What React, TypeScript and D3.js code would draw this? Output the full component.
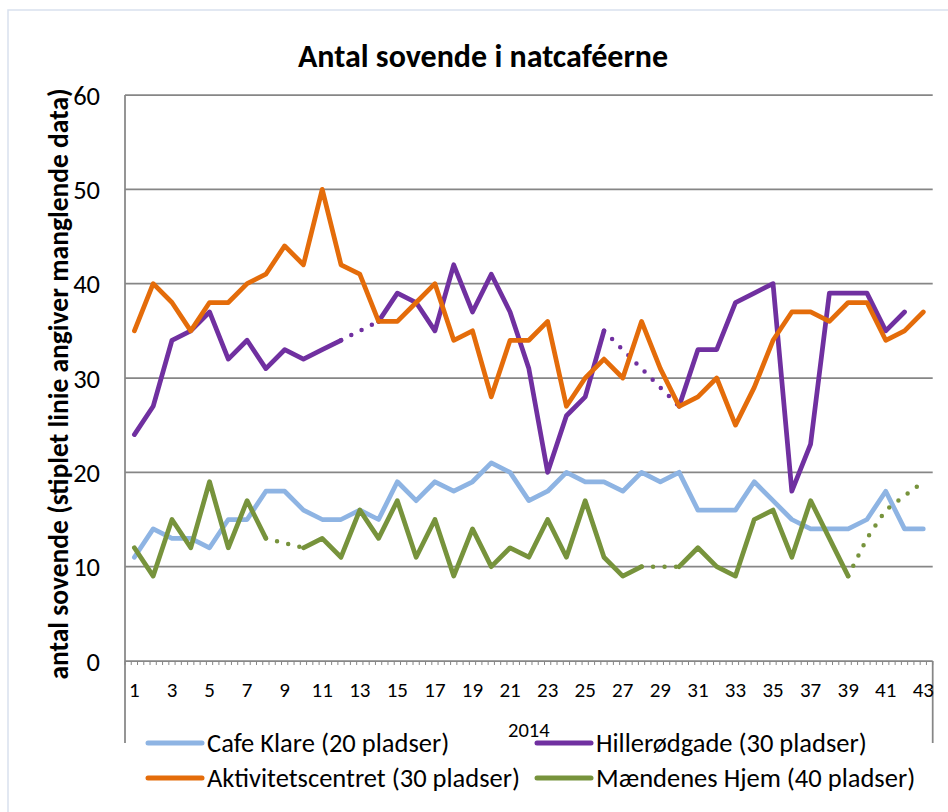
import * as d3 from "d3";

// days along the x axis (multi-level axis, group label "2014")
const days = [
  1, 2, 3, 4, 5, 6, 7, 8, 9, 10, 11, 12, 13, 14, 15, 16, 17, 18, 19, 20, 21,
  22, 23, 24, 25, 26, 27, 28, 29, 30, 31, 32, 33, 34, 35, 36, 37, 38, 39, 40,
  41, 42, 43,
];
const groupLabel = "2014";
const yTicks = [0, 10, 20, 30, 40, 50, 60];

type V = number | null;

const cafeKlare: V[] = [
  11, 14, 13, 13, 12, 15, 15, 18, 18, 16, 15, 15, 16, 15, 19, 17, 19, 18, 19,
  21, 20, 17, 18, 20, 19, 19, 18, 20, 19, 20, 16, 16, 16, 19, 17, 15, 14, 14,
  14, 15, 18, 14, 14,
];
const hillerodgade: V[] = [
  24, 27, 34, 35, 37, 32, 34, 31, 33, 32, 33, 34, null, 36, 39, 38, 35, 42, 37,
  41, 37, 31, 20, 26, 28, 35, null, null, null, 27, 33, 33, 38, 39, 40, 18, 23,
  39, 39, 39, 35, 37, null,
];
const aktivitetscentret: V[] = [
  35, 40, 38, 35, 38, 38, 40, 41, 44, 42, 50, 42, 41, 36, 36, 38, 40, 34, 35,
  28, 34, 34, 36, 27, 30, 32, 30, 36, 31, 27, 28, 30, 25, 29, 34, 37, 37, 36,
  38, 38, 34, 35, 37,
];
const maendenesHjem: V[] = [
  12, 9, 15, 12, 19, 12, 17, 13, null, 12, 13, 11, 16, 13, 17, 11, 15, 9, 14,
  10, 12, 11, 15, 11, 17, 11, 9, 10, null, 10, 12, 10, 9, 15, 16, 11, 17, 13,
  9, null, null, null, null,
];
// dotted (estimated) tail for Mændenes Hjem
const maendenesHjemEstimate: V[] = [
  null, null, null, null, null, null, null, null, null, null, null, null, null,
  null, null, null, null, null, null, null, null, null, null, null, null, null,
  null, null, null, null, null, null, null, null, null, null, null, null, null,
  13, 16, 17.5, 19,
];

const series = [
  { name: "Cafe Klare (20 pladser)", values: cafeKlare, estimate: null, color: "#8EB4E3" },
  { name: "Hillerødgade (30 pladser)", values: hillerodgade, estimate: null, color: "#7030A0" },
  { name: "Aktivitetscentret (30 pladser)", values: aktivitetscentret, estimate: null, color: "#E46C0A" },
  { name: "Mændenes Hjem (40 pladser)", values: maendenesHjem, estimate: maendenesHjemEstimate, color: "#77933C" },
];

const W = 948;
const H = 812;
const plot = { left: 125, right: 932.7, top: 95, bottom: 661 };
const font = "Carlito, Calibri, Lato, sans-serif";
const gridColor = "#868686";

// runs of missing values are bridged with a dotted line
function gapRuns(values: V[], estimate: V[] | null) {
  const runs: number[][] = [];
  let i = 0;
  while (i < values.length) {
    if (values[i] != null) {
      i++;
      continue;
    }
    const s = i;
    while (i < values.length && values[i] == null) i++;
    const pts: number[] = [];
    if (s > 0) pts.push(s - 1);
    for (let k = s; k < i; k++) if (estimate && estimate[k] != null) pts.push(k);
    if (i < values.length) pts.push(i);
    if (pts.length > 1) runs.push(pts);
  }
  return runs;
}

export default function App() {
  const x = d3.scaleBand<number>().domain(days).range([plot.left, plot.right]);
  const bw = x.bandwidth();
  const cx = (d: number) => x(d)! + bw / 2;
  const y = d3.scaleLinear().domain([0, 60]).range([plot.bottom, plot.top]);

  const line = d3
    .line<V>()
    .defined((d) => d != null)
    .x((_, i) => cx(days[i]))
    .y((d) => y(d as number));

  const minorTicks = d3.range(0, days.length * 3 + 1).map((k) => plot.left + (k * bw) / 3);

  const legend = [
    { s: series[0], lx: 148, ly: 743 },
    { s: series[1], lx: 537, ly: 743 },
    { s: series[2], lx: 148, ly: 778 },
    { s: series[3], lx: 537, ly: 778 },
  ];

  return (
    <svg
      width={W}
      height={H}
      style={{ position: "absolute", left: 0, top: 0, fontFamily: font }}
    >
      <rect x={0} y={0} width={W} height={H} fill="#fff" />
      <rect x={8} y={10} width={W + 20} height={H + 20} fill="#fff" stroke="#D9E1EE" strokeWidth={1.5} />

      <text x={483} y={67} textAnchor="middle" fontSize={32} fontWeight="bold" fill="#000">
        Antal sovende i natcaféerne
      </text>

      {/* gridlines */}
      {yTicks.slice(1).map((t) => (
        <line key={t} x1={plot.left} x2={plot.right} y1={y(t)} y2={y(t)} stroke={gridColor} strokeWidth={1.75} />
      ))}
      {yTicks.map((t) => (
        <text key={t} x={100} y={y(t)} dy="0.36em" textAnchor="end" fontSize={26.5} fill="#000">
          {t}
        </text>
      ))}

      {/* axes */}
      <line x1={plot.left} x2={plot.left} y1={plot.top} y2={743} stroke={gridColor} strokeWidth={1.75} />
      <line x1={plot.right} x2={plot.right} y1={plot.bottom} y2={743} stroke={gridColor} strokeWidth={1.75} />
      <line x1={plot.left} x2={plot.right} y1={plot.bottom} y2={plot.bottom} stroke={gridColor} strokeWidth={1.75} />
      {minorTicks.map((t, i) => (
        <line key={i} x1={t} x2={t} y1={plot.bottom} y2={plot.bottom + 4} stroke={gridColor} strokeWidth={1} />
      ))}
      {days
        .filter((d) => d % 2 === 1)
        .map((d) => (
          <text key={d} x={cx(d)} y={697} textAnchor="middle" fontSize={21} fill="#000">
            {d}
          </text>
        ))}
      <text x={(plot.left + plot.right) / 2} y={737} textAnchor="middle" fontSize={20.5} fill="#000">
        {groupLabel}
      </text>

      <text
        transform={`translate(68,384) rotate(-90)`}
        textAnchor="middle"
        fontSize={27.5}
        fontWeight="bold"
        fill="#000"
      >
        antal sovende (stiplet linie angiver manglende data)
      </text>

      {/* series */}
      {series.map((s) => (
        <g key={s.name}>
          <path
            d={line(s.values) ?? ""}
            fill="none"
            stroke={s.color}
            strokeWidth={4.75}
            strokeLinejoin="round"
            strokeLinecap="round"
          />
          {gapRuns(s.values, s.estimate).map((run, i) => (
            <path
              key={i}
              d={
                d3
                  .line<number>()
                  .x((k) => cx(days[k]))
                  .y((k) => y((s.values[k] ?? s.estimate?.[k]) as number))(run) ?? ""
              }
              fill="none"
              stroke={s.color}
              strokeWidth={4.5}
              strokeLinecap="round"
              strokeDasharray="0 11.5"
            />
          ))}
        </g>
      ))}

      {/* legend */}
      {legend.map(({ s, lx, ly }) => (
        <g key={s.name}>
          <line x1={lx} x2={lx + 54} y1={ly} y2={ly} stroke={s.color} strokeWidth={5} strokeLinecap="round" />
          <text x={lx + 59} y={ly + 9} fontSize={26.5} fill="#000">
            {s.name}
          </text>
        </g>
      ))}
    </svg>
  );
}
